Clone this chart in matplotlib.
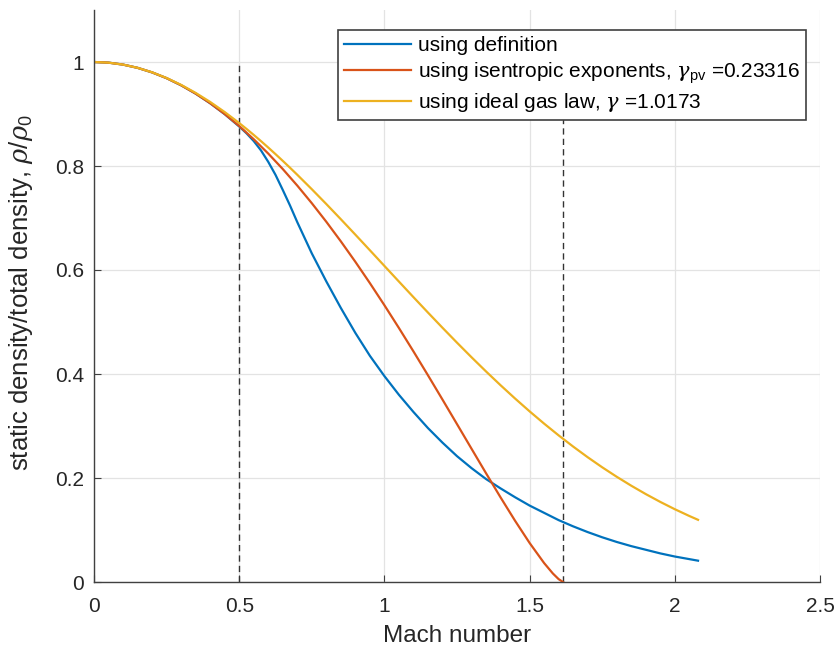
import numpy as np
import matplotlib.pyplot as plt
from matplotlib.ticker import FormatStrFormatter

# density ratio vs Mach number, three ways of computing it
mach = [0.0, 0.05, 0.1, 0.15, 0.2, 0.25, 0.3, 0.35, 0.4, 0.45, 0.5,
        0.525, 0.55, 0.575, 0.6, 0.625, 0.65, 0.675, 0.7, 0.75, 0.8, 0.85, 0.9, 0.95, 1.0,
        1.05, 1.1, 1.15, 1.2, 1.25, 1.3, 1.35, 1.4, 1.45, 1.5,
        1.55, 1.6, 1.65, 1.7, 1.75, 1.8, 1.85, 1.9, 1.95, 2.0,
        2.05, 2.08]

rho_def = [1.0, 0.9988, 0.995, 0.9888, 0.980, 0.9689, 0.9552, 0.9392, 0.9206, 0.8997, 0.876,
           0.863, 0.848, 0.830, 0.808, 0.783, 0.754, 0.724, 0.692, 0.632, 0.578, 0.527, 0.479, 0.435, 0.396,
           0.360, 0.327, 0.296, 0.268, 0.242, 0.219, 0.198, 0.180, 0.163, 0.147,
           0.133, 0.119, 0.107, 0.096, 0.086, 0.077, 0.069, 0.062, 0.055, 0.049,
           0.044, 0.041]

rho_ideal = [1.0, 0.99875, 0.99501, 0.98881, 0.98020, 0.96924, 0.95602, 0.94062, 0.92318, 0.90378, 0.88262,
             0.87139, 0.85980, 0.84783, 0.83550, 0.82285, 0.80988, 0.79665, 0.78313, 0.75537, 0.72683,
             0.69763, 0.66796, 0.63797, 0.60785,
             0.57775, 0.54780, 0.51815, 0.48893, 0.46025, 0.43220, 0.40489, 0.37841, 0.35282, 0.32818,
             0.30455, 0.28197, 0.26044, 0.23995, 0.22060, 0.20236, 0.18520, 0.16909, 0.15402, 0.13999,
             0.12695, 0.11958]

mach_isen = [0.0, 0.05, 0.1, 0.15, 0.2, 0.25, 0.3, 0.35, 0.4, 0.45, 0.5,
             0.55, 0.6, 0.65, 0.7, 0.75, 0.8, 0.85, 0.9, 0.95, 1.0,
             1.05, 1.1, 1.15, 1.2, 1.25, 1.3, 1.35, 1.4, 1.45, 1.5,
             1.55, 1.58, 1.6, 1.615]

rho_isen = [1.0, 0.99875, 0.99500, 0.98876, 0.98005, 0.96886, 0.95524, 0.93919, 0.92076, 0.89997, 0.87686,
            0.85149, 0.82391, 0.79418, 0.76233, 0.72848, 0.69271, 0.65508, 0.61573, 0.57477, 0.53229,
            0.48846, 0.44350, 0.39754, 0.35084, 0.30363, 0.25630, 0.20913, 0.16272, 0.11771, 0.07508,
            0.03641, 0.01644, 0.00548, 0.0]

m_limits = [0.5, 1.615]

labels = ['using definition',
          r'using isentropic exponents, $\gamma_{\mathrm{pv}}$ =0.23316',
          r'using ideal gas law, $\gamma$ =1.0173']
colors = ['#0072BD', '#D95319', '#EDB120']

plt.rcParams['font.family'] = ['Liberation Sans', 'DejaVu Sans']
plt.rcParams['mathtext.fontset'] = 'custom'
plt.rcParams['mathtext.it'] = 'DejaVu Serif:italic'
plt.rcParams['mathtext.rm'] = 'Liberation Sans'

axcol = '#262626'
fig = plt.figure(figsize=(8.38, 6.54), dpi=100)
ax = fig.add_axes([94 / 838, 1 - 582 / 654, 726 / 838, 572 / 654])

for m in m_limits:
    ax.plot([m, m], [0, 1], color='#333333', lw=1.0, dashes=(4.5, 3))

ax.plot(mach, rho_def, color=colors[0], lw=1.6, label=labels[0])
ax.plot(mach_isen, rho_isen, color=colors[1], lw=1.6, label=labels[1])
ax.plot(mach, rho_ideal, color=colors[2], lw=1.6, label=labels[2])

ax.set_xlim(0, 2.5)
ax.set_ylim(0, 1.1)
ax.set_xticks(np.arange(0, 2.51, 0.5))
ax.set_yticks(np.arange(0, 1.01, 0.2))
ax.xaxis.set_major_formatter(FormatStrFormatter('%g'))
ax.yaxis.set_major_formatter(FormatStrFormatter('%g'))
ax.grid(True, color='#e3e3e3', lw=0.9)
ax.set_axisbelow(True)

for s in ['top', 'right']:
    ax.spines[s].set_visible(False)
for s in ['left', 'bottom']:
    ax.spines[s].set_color('#404040')
    ax.spines[s].set_linewidth(1.0)
ax.tick_params(direction='in', length=5, width=0.8, color='#404040',
               labelcolor=axcol, labelsize=15)
ax.tick_params(axis='x', pad=11)
ax.tick_params(axis='y', pad=7)

ax.set_xlabel('Mach number', fontsize=17.5, color=axcol, labelpad=6)
ax.set_ylabel(r'static density/total density, $\rho/\rho_0$', fontsize=18.5, color=axcol)
ax.yaxis.set_label_coords(-0.081, 0.505)

leg = ax.legend(loc='upper left', bbox_to_anchor=(0.336, 0.965), borderaxespad=0,
                fontsize=15, frameon=True, fancybox=False, handlelength=3.2,
                handletextpad=0.35, labelspacing=0.25, borderpad=0.3)
leg.get_frame().set_edgecolor('#404040')
leg.get_frame().set_linewidth(1.2)
leg.get_frame().set_alpha(1)

fig.savefig('out.png', dpi=100)
